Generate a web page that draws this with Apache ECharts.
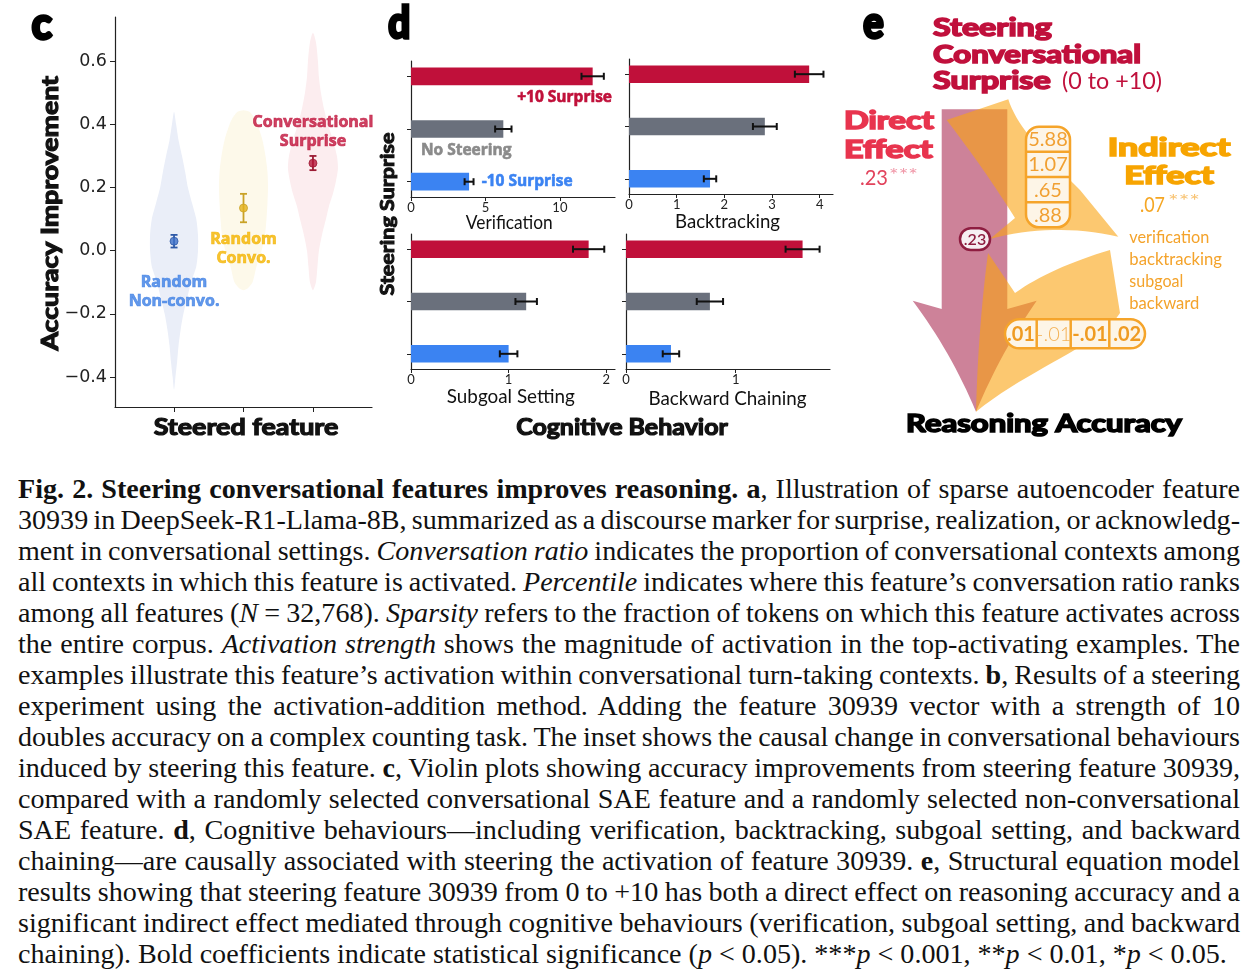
<!DOCTYPE html>
<html>
<head>
<meta charset="utf-8">
<script src="https://cdn.jsdelivr.net/npm/echarts@6/dist/echarts.min.js"></script>
<style>
html, body { margin: 0; padding: 0; background: #fff; }
#chart { position: absolute; left: 0; top: 0; width: 1260px; height: 450px; }
#caption { position: absolute; left: 18px; top: 474px; font-family: "Liberation Serif", serif;
           font-size: 27px; line-height: 31px; color: #111; transform-origin: 0 0; }
#caption .ln { white-space: nowrap; }
</style>
</head>
<body>
<div id="chart"></div>
<div id="caption"></div>
<script>
// ---- panel c : violin data ----
var groups = ['Random\nNon-convo.', 'Random\nConvo.', 'Conversational\nSurprise'];
var meanImprove = [0.03, 0.135, 0.277];
var ciLow = [0.01, 0.09, 0.255];
var ciHigh = [0.05, 0.18, 0.30];
var violinLevels = [
    [0.44, 0.40, 0.35, 0.30, 0.25, 0.20, 0.15, 0.10, 0.05, 0.0, -0.05, -0.10, -0.15, -0.20, -0.25, -0.30, -0.35, -0.40, -0.44],
    [0.445, 0.44, 0.42, 0.40, 0.35, 0.30, 0.25, 0.20, 0.15, 0.10, 0.05, 0.0, -0.05, -0.10, -0.12, -0.125],
    [0.69, 0.66, 0.60, 0.55, 0.50, 0.45, 0.40, 0.35, 0.30, 0.26, 0.22, 0.18, 0.14, 0.10, 0.05, 0.0, -0.05, -0.10, -0.125]
];
var violinHalfWidth = [
    [0, 0.03, 0.065, 0.115, 0.16, 0.2, 0.26, 0.32, 0.345, 0.345, 0.32, 0.245, 0.19, 0.135, 0.095, 0.065, 0.045, 0.02, 0],
    [0, 0.086, 0.158, 0.2, 0.273, 0.317, 0.345, 0.353, 0.345, 0.331, 0.31, 0.26, 0.187, 0.13, 0.058, 0],
    [0, 0.043, 0.072, 0.086, 0.115, 0.158, 0.216, 0.288, 0.345, 0.36, 0.331, 0.288, 0.23, 0.187, 0.13, 0.086, 0.065, 0.043, 0]
];
var cTicks = [-0.4, -0.2, 0, 0.2, 0.4, 0.6];

// ---- panel d : cognitive behaviours ----
var behaviors = ['Verification', 'Backtracking', 'Subgoal Setting', 'Backward Chaining'];
var conditions = ['+10 Surprise', 'No Steering', '-10 Surprise'];
var behaviorMean = [[12.2, 6.2, 3.9], [3.78, 2.85, 1.7], [1.82, 1.18, 1.0], [1.61, 0.765, 0.41]];
var behaviorErr = [[0.75, 0.55, 0.3], [0.3, 0.25, 0.13], [0.16, 0.11, 0.09], [0.155, 0.12, 0.075]];
var behaviorTicks = [[0, 5, 10], [0, 1, 2, 3, 4], [0, 1, 2], [0, 1]];
var behaviorMax = [13.7, 4.28, 2.09, 1.86];

// ---- panel e : structural equation model ----
var pathA = ['5.88', '1.07', '.65', '.88'];
var pathB = ['.01', '-.01', '-.01', '.02'];
var pathBSignificant = [true, false, true, true];
var mediators = ['verification', 'backtracking', 'subgoal', 'backward'];
var directEffect = '.23';
var indirectEffect = '.07';

var captionLines = [
    '<b>Fig. 2. Steering conversational features improves reasoning. a</b>, Illustration of sparse autoencoder feature',
    '30939 in DeepSeek-R1-Llama-8B, summarized as a discourse marker for surprise, realization, or acknowledg-',
    'ment in conversational settings. <i>Conversation ratio</i> indicates the proportion of conversational contexts among',
    'all contexts in which this feature is activated. <i>Percentile</i> indicates where this feature\u2019s conversation ratio ranks',
    'among all features (<i>N</i> = 32,768). <i>Sparsity</i> refers to the fraction of tokens on which this feature activates across',
    'the entire corpus. <i>Activation strength</i> shows the magnitude of activation in the top-activating examples. The',
    'examples illustrate this feature\u2019s activation within conversational turn-taking contexts. <b>b</b>, Results of a steering',
    'experiment using the activation-addition method. Adding the feature 30939 vector with a strength of 10',
    'doubles accuracy on a complex counting task. The inset shows the causal change in conversational behaviours',
    'induced by steering this feature. <b>c</b>, Violin plots showing accuracy improvements from steering feature 30939,',
    'compared with a randomly selected conversational SAE feature and a randomly selected non-conversational',
    'SAE feature. <b>d</b>, Cognitive behaviours\u2014including verification, backtracking, subgoal setting, and backward',
    'chaining\u2014are causally associated with steering the activation of feature 30939. <b>e</b>, Structural equation model',
    'results showing that steering feature 30939 from 0 to +10 has both a direct effect on reasoning accuracy and a',
    'significant indirect effect mediated through cognitive behaviours (verification, subgoal setting, and backward',
    'chaining). Bold coefficients indicate statistical significance (<i>p</i> &lt; 0.05). ***<i>p</i> &lt; 0.001, **<i>p</i> &lt; 0.01, *<i>p</i> &lt; 0.05.'
];

// ---- styles / layout ----
var violinFill = ['#eaeef8', '#fdf9ea', '#fcedef'];
var pointColor = ['#3d6fc8', '#e3b21c', '#b5173a'];
var errColor = ['#2f5aa8', '#c9a227', '#9c1c34'];
var labelColor = ['#3d7fe5', '#f4b400', '#c0143c'];
var cLabelOffset = [50.5, 40.5, -31.2];
var barColors = ['#c0103a', '#6a707c', '#3b83f2'];
var BAR_HALF = 0.168;
var C_GRID = {left: 115, top: 17, width: 257, height: 390};
var D_GRIDS = [
    {left: 411, top: 61, width: 204, height: 136},
    {left: 629, top: 59, width: 204, height: 135},
    {left: 411, top: 234, width: 204, height: 135},
    {left: 626, top: 234, width: 204, height: 135}
];
var AXIS_LINE = {show: true, onZero: false, lineStyle: {color: '#222', width: 1.2}};
var ORANGE = 'rgba(250,163,17,0.6)';

var measureCtx = document.createElement('canvas').getContext('2d');
// text scaled to the width it takes in the figure; "weight" thickens the glyphs with an outline
function fitText(o)
{
    measureCtx.font = o.font;
    var w = measureCtx.measureText(o.text).width + (o.weight || 0);
    var color = o.color || '#111';
    var style = {text: o.text, font: o.font, fill: color, align: o.align || 'center', verticalAlign: 'middle'};
    if (o.weight) {
        style.stroke = color;
        style.lineWidth = o.weight;
        style.lineJoin = 'round';
    }
    return {type: 'text', x: o.x, y: o.y, rotation: o.rotation || 0, z: 20,
            scaleX: o.width ? o.width / w : 1, style: style};
}

function tracePath(cmds)
{
    var pts = [], cur = null;
    cmds.forEach(function(c) {
        var i, t, u;
        if (c[0] === 'M' || c[0] === 'L') {
            cur = [c[1], c[2]];
            pts.push(cur);
        } else if (c[0] === 'Q') {
            for (i = 1; i <= 16; i++) {
                t = i / 16; u = 1 - t;
                pts.push([u * u * cur[0] + 2 * u * t * c[1] + t * t * c[3],
                          u * u * cur[1] + 2 * u * t * c[2] + t * t * c[4]]);
            }
            cur = [c[3], c[4]];
        } else if (c[0] === 'C') {
            for (i = 1; i <= 20; i++) {
                t = i / 20; u = 1 - t;
                pts.push([u * u * u * cur[0] + 3 * u * u * t * c[1] + 3 * u * t * t * c[3] + t * t * t * c[5],
                          u * u * u * cur[1] + 3 * u * u * t * c[2] + 3 * u * t * t * c[4] + t * t * t * c[6]]);
            }
            cur = [c[5], c[6]];
        }
    });
    return pts;
}

// ---- renderers ----
function renderViolin(params, api)
{
    var g = params.dataIndex;
    var lv = violinLevels[g], hw = violinHalfWidth[g];
    var pts = [], k;
    for (k = 0; k < lv.length; k++) pts.push(api.coord([g + hw[k], lv[k]]));
    for (k = lv.length - 2; k >= 1; k--) pts.push(api.coord([g - hw[k], lv[k]]));
    return {type: 'polygon', shape: {points: pts, smooth: 0.25}, style: {fill: violinFill[g]}};
}

function renderMeanErr(params, api)
{
    var g = params.dataIndex;
    var lo = api.coord([api.value(0), api.value(2)]);
    var hi = api.coord([api.value(0), api.value(3)]);
    var st = {stroke: errColor[g], lineWidth: 1.8};
    return {type: 'group', children: [
        {type: 'line', shape: {x1: lo[0], y1: lo[1], x2: hi[0], y2: hi[1]}, style: st},
        {type: 'line', shape: {x1: lo[0] - 3.5, y1: lo[1], x2: lo[0] + 3.5, y2: lo[1]}, style: st},
        {type: 'line', shape: {x1: hi[0] - 3.5, y1: hi[1], x2: hi[0] + 3.5, y2: hi[1]}, style: st}
    ]};
}

function makeBarRender(b)
{
    return function(params, api) {
        var j = params.dataIndex;
        var v = api.value(0), cat = api.value(1), err = api.value(2);
        var tl = api.coord([0, cat - BAR_HALF]), br = api.coord([v, cat + BAR_HALF]);
        var e0 = api.coord([v - err, cat]), e1 = api.coord([v + err, cat]);
        var st = {stroke: '#111', lineWidth: 2};
        var children = [
            {type: 'rect', shape: {x: tl[0], y: Math.min(tl[1], br[1]), width: br[0] - tl[0],
                                   height: Math.abs(br[1] - tl[1])}, style: {fill: barColors[j]}},
            {type: 'line', shape: {x1: e0[0], y1: e0[1], x2: e1[0], y2: e1[1]}, style: st},
            {type: 'line', shape: {x1: e0[0], y1: e0[1] - 3.5, x2: e0[0], y2: e0[1] + 3.5}, style: st},
            {type: 'line', shape: {x1: e1[0], y1: e1[1] - 3.5, x2: e1[0], y2: e1[1] + 3.5}, style: st}
        ];
        if (b === 0) {
            var p, align = 'left', fill = barColors[j];
            if (j === 0) { p = api.coord([behaviorMax[0] - 0.2, 0.41]); align = 'right'; }
            else if (j === 1) { p = api.coord([0.67, 1.41]); fill = '#8a8a8a'; }
            else { p = api.coord([v + err + 0.55, 2]); }
            children.push({type: 'text', x: p[0], y: p[1], style: {
                text: conditions[j], fill: fill, font: 'bold 15.5px "Open Sans"',
                stroke: fill, lineWidth: 0.6,
                align: align, verticalAlign: 'middle'}});
        }
        return {type: 'group', children: children};
    };
}

// ---- axes / grids ----
var grids = [Object.assign({outerBoundsMode: 'none'}, C_GRID)];
var xAxes = [{
    gridIndex: 0, type: 'value', min: -0.85, max: 2.85, axisLine: AXIS_LINE,
    axisTick: {show: true, customValues: [0, 1, 2], length: 5, lineStyle: {color: '#222'}},
    axisLabel: {show: false}, splitLine: {show: false}
}];
var yAxes = [{
    gridIndex: 0, type: 'value', min: -0.495, max: 0.74, axisLine: AXIS_LINE,
    axisTick: {show: true, customValues: cTicks, length: 5, lineStyle: {color: '#222'}},
    axisLabel: {customValues: cTicks, fontSize: 17.5, fontFamily: 'DejaVu Sans', color: '#222', margin: 8,
                formatter: function(v) { return (v < 0 ? '\u2212' : '') + Math.abs(v).toFixed(1); }},
    splitLine: {show: false}
}];
var series = [
    {type: 'custom', xAxisIndex: 0, yAxisIndex: 0, renderItem: renderViolin, z: 1,
     data: meanImprove.map(function(m, i) { return [i, m]; }), encode: {x: 0, y: 1}},
    {type: 'custom', xAxisIndex: 0, yAxisIndex: 0, renderItem: renderMeanErr, z: 3,
     data: meanImprove.map(function(m, i) { return [i, m, ciLow[i], ciHigh[i]]; }), encode: {x: 0, y: 1}},
    {type: 'scatter', xAxisIndex: 0, yAxisIndex: 0, symbolSize: 8, z: 4,
     data: meanImprove.map(function(m, i) {
         return {value: [i, m], itemStyle: {color: pointColor[i], borderColor: errColor[i], borderWidth: 1},
                 label: {show: true, position: 'inside', offset: [0, cLabelOffset[i]], formatter: groups[i],
                         color: labelColor[i], fontFamily: 'Open Sans', fontWeight: 'bold',
                         textBorderColor: labelColor[i], textBorderWidth: 0.7,
                         fontSize: 16, lineHeight: 19, align: 'center'}};
     })}
];

behaviors.forEach(function(name, i) {
    grids.push(Object.assign({outerBoundsMode: 'none'}, D_GRIDS[i]));
    xAxes.push({
        gridIndex: i + 1, type: 'value', min: 0, max: behaviorMax[i], axisLine: AXIS_LINE,
        axisTick: {show: true, customValues: behaviorTicks[i], length: 4, lineStyle: {color: '#222'}},
        axisLabel: {customValues: behaviorTicks[i], fontSize: 13, fontFamily: 'Lato', color: '#222', margin: 4},
        splitLine: {show: false}
    });
    yAxes.push({
        gridIndex: i + 1, type: 'value', min: -0.29, max: 2.29, inverse: true, axisLine: AXIS_LINE,
        axisTick: {show: true, customValues: [0, 1, 2], length: 4, lineStyle: {color: '#222'}},
        axisLabel: {show: false}, splitLine: {show: false}
    });
    series.push({
        type: 'custom', xAxisIndex: i + 1, yAxisIndex: i + 1, renderItem: makeBarRender(i), z: 2,
        data: behaviorMean[i].map(function(v, j) { return [v, j, behaviorErr[i][j]]; }),
        encode: {x: 0, y: 1}
    });
});

// ---- text and diagram elements ----
var heavy = 'bold 24px Lato';
var HEAVY_W = 1.6;
var elements = [
    fitText({text: 'c', font: 'bold 44px Lato', x: 31.7, y: 25, width: 23.3, align: 'left', color: '#000', weight: 3.5}),
    fitText({text: 'd', font: 'bold 44px Lato', x: 388.3, y: 23.5, width: 25, align: 'left', color: '#000', weight: 3.5}),
    fitText({text: 'e', font: 'bold 44px Lato', x: 863.3, y: 23.5, width: 23.4, align: 'left', color: '#000', weight: 3.5}),
    fitText({text: 'Steered feature', font: 'bold 23px Lato', x: 246, y: 427.7, width: 186, weight: 1.2}),
    fitText({text: 'Accuracy Improvement', font: 'bold 23px Lato', x: 51, y: 213.3, width: 276,
             rotation: Math.PI / 2, weight: 1.2}),
    fitText({text: 'Steering Surprise', font: 'bold 19px Lato', x: 387.5, y: 214, width: 164,
             rotation: Math.PI / 2, weight: 1}),
    fitText({text: 'Cognitive Behavior', font: 'bold 23px Lato', x: 622, y: 428, width: 213, weight: 1.2}),
    fitText({text: behaviors[0], font: '19px Lato', x: 509.3, y: 223, width: 87}),
    fitText({text: behaviors[1], font: '19px Lato', x: 727.5, y: 221.5, width: 105}),
    fitText({text: behaviors[2], font: '19px Lato', x: 510.8, y: 396.7, width: 128}),
    fitText({text: behaviors[3], font: '19px Lato', x: 727.5, y: 399, width: 158})
];

// panel e shapes
var pinkArrow = [['M', 941.7, 109.3], ['L', 1007.3, 109.3], ['L', 1007.3, 309], ['L', 1036.7, 300.7],
                 ['Q', 1001, 352, 976, 411.7], ['Q', 951, 352, 912.7, 300.7], ['L', 941.7, 309]];
var bandToMediators = [['M', 946.7, 120], ['L', 1008.3, 99.3], ['C', 1018, 130, 1050, 160, 1080, 190],
                       ['L', 1118.3, 236.7], ['Q', 1052, 222, 990, 239], ['L', 1015, 218],
                       ['Q', 985, 170, 946.7, 120]];
var bandToAccuracy = [['M', 1110, 250], ['L', 1120, 313], ['C', 1100, 345, 1030, 368, 976, 411.7],
                      ['Q', 978, 330, 988, 253], ['L', 1015, 293], ['Q', 1050, 268, 1110, 250]];
elements.push({type: 'polygon', z: 5, shape: {points: tracePath(pinkArrow)}, style: {fill: '#cd8299'}});
elements.push({type: 'polygon', z: 6, shape: {points: tracePath(bandToMediators)}, style: {fill: ORANGE}});
elements.push({type: 'polygon', z: 6, shape: {points: tracePath(bandToAccuracy)}, style: {fill: ORANGE}});

// vertical coefficient box (a paths)
var boxA = {x: 1026, y: 126.7, w: 44, h: 100.6};
var cellA = boxA.h / pathA.length;
elements.push({type: 'rect', z: 8, shape: {x: boxA.x, y: boxA.y, width: boxA.w, height: boxA.h, r: 13},
               style: {fill: '#fdf5e7', stroke: '#f5a42a', lineWidth: 2.5}});
pathA.forEach(function(t, k) {
    if (k > 0) elements.push({type: 'line', z: 9, shape: {x1: boxA.x, y1: boxA.y + cellA * k,
        x2: boxA.x + boxA.w, y2: boxA.y + cellA * k}, style: {stroke: '#f5a42a', lineWidth: 2.5}});
    elements.push({type: 'text', z: 10, x: boxA.x + boxA.w / 2, y: boxA.y + cellA * (k + 0.5) + 0.5,
                   style: {text: t, font: '400 20px Lato', fill: '#f1a032', align: 'center', verticalAlign: 'middle'}});
});

// horizontal coefficient box (b paths)
var boxBEdges = [1005, 1036.7, 1070.7, 1109.3, 1145];
var boxB = {y: 319.3, h: 29};
elements.push({type: 'rect', z: 8, shape: {x: boxBEdges[0], y: boxB.y, width: boxBEdges[4] - boxBEdges[0],
               height: boxB.h, r: 14.5}, style: {fill: '#fdf5e7', stroke: '#f5a42a', lineWidth: 2.5}});
pathB.forEach(function(t, k) {
    if (k > 0) elements.push({type: 'line', z: 9, shape: {x1: boxBEdges[k], y1: boxB.y, x2: boxBEdges[k],
        y2: boxB.y + boxB.h}, style: {stroke: '#f5a42a', lineWidth: 2.5}});
    elements.push({type: 'text', z: 10, x: (boxBEdges[k] + boxBEdges[k + 1]) / 2, y: boxB.y + boxB.h / 2 + 0.5,
                   style: {text: t, font: (pathBSignificant[k] ? '700' : '300') + ' 20px Lato',
                           fill: pathBSignificant[k] ? '#ef9b22' : '#f4b257', align: 'center', verticalAlign: 'middle'}});
});

// direct path coefficient
elements.push({type: 'rect', z: 8, shape: {x: 960, y: 228.3, width: 30, height: 21.7, r: 10.8},
               style: {fill: '#f6eef2', stroke: '#8e1d40', lineWidth: 2.5}});
elements.push({type: 'text', z: 10, x: 975, y: 239.5, style: {text: directEffect, font: '600 16px Lato',
               fill: '#8e1d40', align: 'center', verticalAlign: 'middle'}});

// panel e labels
elements.push(
    fitText({text: 'Steering', font: heavy, x: 933, y: 28, width: 121, align: 'left', color: '#c0103c', weight: HEAVY_W}),
    fitText({text: 'Conversational', font: heavy, x: 933, y: 55.5, width: 210, align: 'left', color: '#c0103c', weight: HEAVY_W}),
    fitText({text: 'Surprise', font: heavy, x: 933, y: 81.5, width: 120, align: 'left', color: '#c0103c', weight: HEAVY_W}),
    fitText({text: '(0 to +10)', font: '400 23px Lato', x: 1062, y: 82, width: 100, align: 'left', color: '#c0103c'}),
    fitText({text: 'Direct', font: heavy, x: 844, y: 121.7, width: 92, align: 'left', color: '#e8344e', weight: HEAVY_W}),
    fitText({text: 'Effect', font: heavy, x: 844, y: 150, width: 91, align: 'left', color: '#e8344e', weight: HEAVY_W}),
    fitText({text: directEffect, font: '400 21px Lato', x: 860, y: 178, width: 28, align: 'left', color: '#e2435c'}),
    fitText({text: '***', font: '400 17px Lato', x: 889, y: 176, width: 29, align: 'left', color: '#f095a6'}),
    fitText({text: 'Indirect', font: heavy, x: 1169, y: 148.5, width: 125, color: '#f7a400', weight: HEAVY_W}),
    fitText({text: 'Effect', font: heavy, x: 1169, y: 176.7, width: 92, color: '#f7a400', weight: HEAVY_W}),
    fitText({text: indirectEffect, font: '400 21px Lato', x: 1140, y: 205, width: 25, align: 'left', color: '#f5a623'}),
    fitText({text: '***', font: '400 17px Lato', x: 1168, y: 202, width: 32, align: 'left', color: '#f8c270'}),
    fitText({text: 'Reasoning Accuracy', font: heavy, x: 1044, y: 424.5, width: 278, color: '#000', weight: HEAVY_W})
);
var mediatorY = [237.5, 259.5, 281.7, 303.3];
var mediatorW = [80, 92.7, 54, 70];
mediators.forEach(function(m, k) {
    elements.push(fitText({text: m, font: '400 16.5px Lato', x: 1129.3, y: mediatorY[k], width: mediatorW[k],
                           align: 'left', color: '#f4a32b'}));
});

var chart = echarts.init(document.getElementById('chart'), null, {renderer: 'canvas'});
chart.setOption({
    animation: false,
    backgroundColor: '#fff',
    grid: grids,
    xAxis: xAxes,
    yAxis: yAxes,
    series: series,
    graphic: {elements: elements}
});

// ---- caption, justified line by line ----
var cap = document.getElementById('caption');
var spans = captionLines.map(function(html) {
    var d = document.createElement('div');
    d.className = 'ln';
    var s = document.createElement('span');
    s.innerHTML = html;
    d.appendChild(s);
    cap.appendChild(d);
    return s;
});
var widths = spans.map(function(s) { return s.getBoundingClientRect().width; });
var avg = 0;
for (var i = 0; i < widths.length - 1; i++) avg += widths[i];
avg /= widths.length - 1;
var scale = 1222 / avg;
spans.forEach(function(s, i) {
    if (i === spans.length - 1) return;
    var n = (s.textContent.match(/ /g) || []).length;
    s.parentNode.style.wordSpacing = ((1222 / scale - widths[i]) / n) + 'px';
});
cap.style.transform = 'scaleX(' + scale + ')';
</script>
</body>
</html>
